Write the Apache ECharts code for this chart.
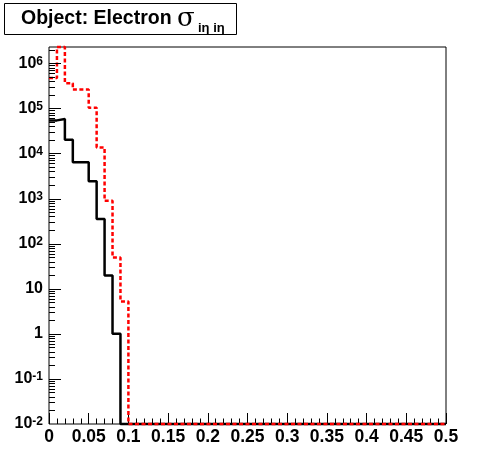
<!DOCTYPE html>
<html><head><meta charset="utf-8">
<script src="https://cdn.jsdelivr.net/npm/echarts@6/dist/echarts.min.js"></script>
<style>html,body{margin:0;padding:0;background:#fff}#c{width:496px;height:472px}</style>
</head><body><div id="c"></div>
<script>
// ---- data ----
const binEdges = [0,0.01,0.02,0.03,0.04,0.05,0.06,0.07,0.08,0.09,0.1,
  0.11,0.12,0.13,0.14,0.15,0.16,0.17,0.18,0.19,0.2,
  0.21,0.22,0.23,0.24,0.25,0.26,0.27,0.28,0.29,0.3,
  0.31,0.32,0.33,0.34,0.35,0.36,0.37,0.38,0.39,0.4,
  0.41,0.42,0.43,0.44,0.45,0.46,0.47,0.48,0.49,0.5];
const blackCounts = [5.4e4,5.8e4,2.0e4,6.4e3,6.4e3,2.4e3,350,19.6,1.0,0,
  0,0,0,0,0,0,0,0,0,0, 0,0,0,0,0,0,0,0,0,0,
  0,0,0,0,0,0,0,0,0,0, 0,0,0,0,0,0,0,0,0,0];
const redCounts = [4.7e5,3.5e6,3.6e5,2.6e5,2.6e5,1.03e5,1.36e4,890,49,5.2,
  0,0,0,0,0,0,0,0,0,0, 0,0,0,0,0,0,0,0,0,0,
  0,0,0,0,0,0,0,0,0,0, 0,0,0,0,0,0,0,0,0,0];
const yDecades = [0.01,0.1,1,10,100,1000,1e4,1e5,1e6];
const yMinorMultipliers = [2,3,4,5,6,7,8,9];
const yMin = 0.01, yMax = 2.29e6;
const xMin = 0, xMax = 0.5, xInterval = 0.05;
const titleMain = 'Object: Electron';
const titleSymbol = 'σ';
const titleSub = 'iη iη';

// ---- build ----
const clampV = v => Math.min(Math.max(v, yMin), yMax);
function stepPoints(counts){
  const pts = [];
  for (let i = 0; i < counts.length; i++) {
    const v = clampV(counts[i]);
    pts.push([binEdges[i], v], [binEdges[i+1], v]);
  }
  return pts;
}
const yTicks = [];
yDecades.forEach(d => {
  if (d > yMin) yTicks.push({v: d, major: true});
  yMinorMultipliers.forEach(m => { const t = d * m; if (t <= yMax) yTicks.push({v: t, major: false}); });
});

function yLabel(v){
  const l = Math.log10(v), e = Math.round(l);
  if (Math.abs(l - e) > 1e-6) return '';
  if (e === 0) return '{b|1}';
  if (e === 1) return '{b|10}';
  return '{b|10}{s|' + e + '}';
}

const FONT = 'Liberation Sans, Arial, Helvetica, sans-serif';
const titleGraphics = [
  {id: 'tbox', type: 'rect', shape: {x: 4.5, y: 3.5, width: 232, height: 31}, style: {fill: '#fff', stroke: '#000', lineWidth: 1}, z: 10},
  {id: 't1', type: 'text', x: 21, y: 29, z: 11, style: {text: titleMain, fontFamily: FONT, fontWeight: 'bold', fontSize: 19.5, fill: '#000', verticalAlign: 'bottom'}},
  {id: 't2', type: 'text', x: 177, y: 32, z: 11, style: {text: titleSymbol, fontFamily: 'DejaVu Serif, serif', fontSize: 26, fill: '#000', verticalAlign: 'bottom'}},
  {id: 't3', type: 'text', x: 198, y: 35, z: 11, style: {text: titleSub, fontFamily: FONT, fontWeight: 'bold', fontSize: 13, fill: '#000', verticalAlign: 'bottom'}}
];
const chart = echarts.init(document.getElementById('c'), null, {renderer:'canvas'});
chart.setOption({
  animation: false,
  backgroundColor: '#fff',
  grid: {left: 49, top: 47, width: 397, height: 377, show: true, borderColor: '#000', borderWidth: 1},
  xAxis: {
    type: 'value', min: xMin, max: xMax, interval: xInterval,
    axisLine: {show: false},
    axisTick: {show: true, inside: true, length: 11, lineStyle: {color: '#000', width: 1}},
    minorTick: {show: true, splitNumber: 5, length: 5.5, lineStyle: {color: '#000', width: 1}},
    splitLine: {show: false}, minorSplitLine: {show: false},
    axisLabel: {color: '#000', fontFamily: FONT, fontWeight: 'bold', fontSize: 17.5, margin: 4, hideOverlap: false,
      formatter: v => String(+v.toFixed(2))}
  },
  yAxis: {
    type: 'log', logBase: 10, min: yMin, max: yMax,
    axisLine: {show: false}, axisTick: {show: false}, splitLine: {show: false},
    axisLabel: {color: '#000', margin: 6, formatter: yLabel, hideOverlap: false,
      rich: {
        b: {fontFamily: FONT, fontWeight: 'bold', fontSize: 16, color: '#000'},
        s: {fontFamily: FONT, fontWeight: 'bold', fontSize: 12, color: '#000', verticalAlign: 'top'}
      }}
  },
  series: [
    {type: 'line', data: stepPoints(blackCounts), showSymbol: false, clip: false, silent: true,
      lineStyle: {color: '#000', width: 2.5}, z: 3},
    {type: 'line', data: stepPoints(redCounts), showSymbol: false, clip: false, silent: true,
      lineStyle: {color: '#ff0000', width: 2.5, type: [4, 2.5]}, z: 4}
  ],
  graphic: titleGraphics
});

// y-axis inner ticks (major at decades, minor at 2..9), positioned through the axis scale
const tickGraphics = yTicks.map((t, i) => {
  const p = chart.convertToPixel({gridIndex: 0}, [xMin, t.v]);
  const x0 = Math.round(p[0]);
  const y = Math.round(p[1]) + 0.5;
  const len = t.major ? 12 : 6;
  return {id: 'yt' + i, type: 'line', shape: {x1: x0, y1: y, x2: x0 + len, y2: y},
    style: {stroke: '#000', lineWidth: 1}, z: 5, silent: true};
});
chart.setOption({graphic: titleGraphics.concat(tickGraphics)});
</script></body></html>
